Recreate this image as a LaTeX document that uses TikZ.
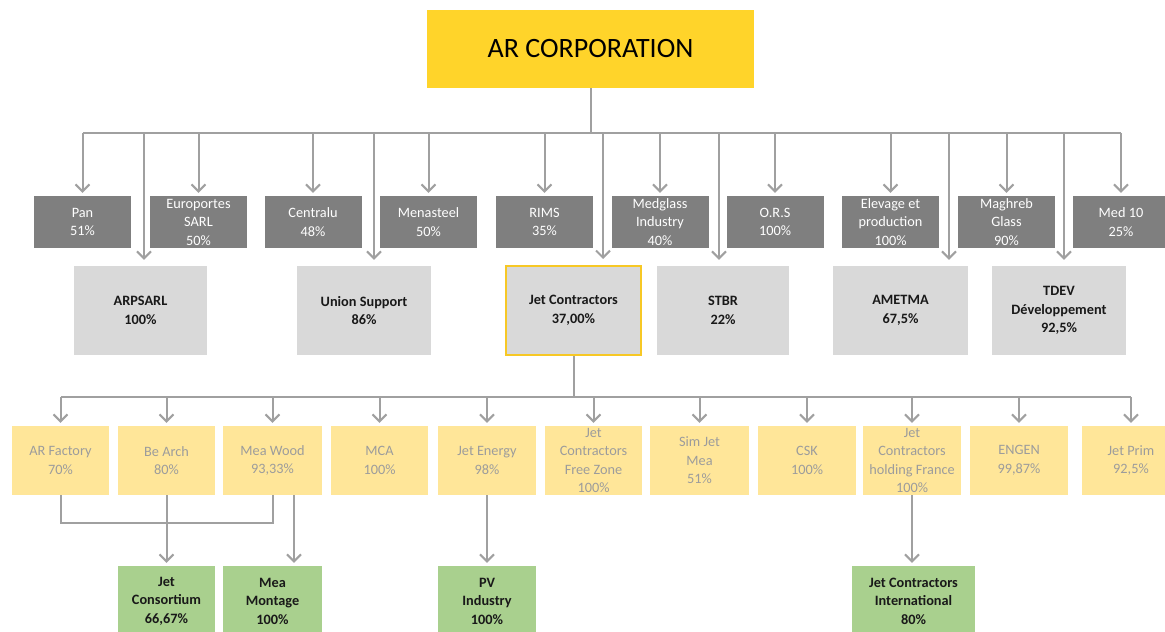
\documentclass[tikz,border=0pt]{standalone}
\usepackage{fontspec}
\setmainfont{Carlito}
\usetikzlibrary{arrows.meta,calc}
\definecolor{corpfill}{HTML}{FFD42A}
\definecolor{dgfill}{HTML}{7F7F7F}
\definecolor{lgfill}{HTML}{D9D9D9}
\definecolor{yfill}{HTML}{FFE699}
\definecolor{gfill}{HTML}{A9D08E}
\definecolor{lncol}{HTML}{A0A0A0}
\definecolor{ytext}{HTML}{9C9C9C}
\definecolor{jcborder}{HTML}{F7C825}
\begin{document}
\begin{tikzpicture}[x=1pt,y=-1pt,
  box/.style={inner sep=0pt, align=center, font=\fontsize{14.3}{18.5}\selectfont},
  corpbox/.style={box, fill=corpfill, minimum width=327pt, minimum height=78pt, font=\fontsize{28}{32}\selectfont},
  dgbox/.style={box, fill=dgfill, text=white, minimum width=97pt, minimum height=52pt},
  lgbox/.style={box, fill=lgfill, text=black!90, minimum width=134pt, minimum height=89pt, font=\fontsize{14.3}{18.5}\selectfont\bfseries},
  ybox/.style={box, fill=yfill, text=ytext, minimum width=97pt, minimum height=69pt},
  gbox/.style={box, fill=gfill, text=black!90, minimum width=98pt, minimum height=70pt, font=\fontsize{14.3}{18.5}\selectfont\bfseries},
  ln/.style={draw=lncol, line width=2pt},
  arr/.style={ln, -{Straight Barb[length=7pt,width=14pt]}, shorten >=3pt},
  arrl/.style={arr, shorten >=6pt}
]
\useasboundingbox (0,0) rectangle (1165,632);

% top
\node[corpbox] (corp) at (590.5,49) {AR CORPORATION};

% dark grey row
\node[dgbox] (pan) at (82.5,222) {Pan\\51\%};
\node[dgbox] (euro) at (198.5,222) {Europortes\\SARL\\50\%};
\node[dgbox] (centralu) at (313,222) {Centralu\\48\%};
\node[dgbox] (menasteel) at (428.5,222) {Menasteel\\50\%};
\node[dgbox] (rims) at (544.5,222) {RIMS\\35\%};
\node[dgbox] (medglass) at (660,222) {Medglass\\Industry\\40\%};
\node[dgbox] (ors) at (775,222) {O.R.S\\100\%};
\node[dgbox] (elevage) at (890.5,222) {Elevage et\\production\\100\%};
\node[dgbox] (maghreb) at (1006.5,222) {Maghreb\\Glass\\90\%};
\node[dgbox] (med10) at (1121,222) {Med 10\\25\%};

% light grey row
\node[lgbox, minimum width=133pt] (arp) at (140.5,310.5) {ARPSARL\\100\%};
\node[lgbox] (union) at (364,310.5) {Union Support\\86\%};
\node[lgbox, minimum width=135pt, draw=jcborder, line width=2pt] (jc) at (573.5,310.5) {Jet Contractors\\37,00\%};
\node[lgbox, minimum width=132pt] (stbr) at (723,310.5) {STBR\\22\%};
\node[lgbox, minimum width=135pt] (ametma) at (900.5,310.5) {AMETMA\\67,5\%};
\node[lgbox] (tdev) at (1059,310.5) {TDEV\\Développement\\92,5\%};

% yellow row
\node[ybox] (arf) at (60.5,460.5) {AR Factory\\70\%};
\node[ybox] (bea) at (166.5,460.5) {Be Arch\\80\%};
\node[ybox, minimum width=99pt] (meaw) at (272.5,460.5) {Mea Wood\\93,33\%};
\node[ybox] (mca) at (379.5,460.5) {MCA\\100\%};
\node[ybox, minimum width=98pt] (jen) at (487,460.5) {Jet Energy\\98\%};
\node[ybox] (jcfz) at (593.5,460.5) {Jet\\Contractors\\Free Zone\\100\%};
\node[ybox, minimum width=99pt] (sim) at (699.5,460.5) {Sim Jet\\Mea\\51\%};
\node[ybox, minimum width=98pt] (csk) at (807,460.5) {CSK\\100\%};
\node[ybox, minimum width=98pt] (jchf) at (912,460.5) {Jet\\Contractors\\holding France\\100\%};
\node[ybox, minimum width=98pt] (engen) at (1019,460.5) {ENGEN\\99,87\%};
\node[ybox, minimum width=98pt] (jprim) at (1131,460.5) {Jet Prim\\92,5\%};

% green row
\node[gbox, minimum width=97pt] (jcons) at (166.5,601) {Jet\\Consortium\\66,67\%};
\node[gbox, minimum width=99pt] (meamont) at (272.5,601) {Mea\\Montage\\100\%};
\node[gbox] (pv) at (487,601) {PV\\Industry\\100\%};
\node[gbox, minimum width=123pt] (jci) at (913.5,601) {Jet Contractors\\International\\80\%};

% top bar
\coordinate (b1l) at (83,133);
\coordinate (b1r) at (1121,133);
\draw[ln] (corp.south) -- (corp.south |- b1l);
\draw[ln] (b1l) -- (b1r);
\foreach \n in {pan,euro,centralu,menasteel,rims,medglass,ors,elevage,maghreb,med10}
  \draw[arr] (\n.north |- b1l) -- (\n.north);
\coordinate (aarp) at ([xshift=3.5pt]arp.north);
\coordinate (aunion) at ([xshift=10pt]union.north);
\coordinate (ajc) at ([xshift=29.5pt]jc.north);
\coordinate (astbr) at ([xshift=-4pt]stbr.north);
\coordinate (aametma) at ([xshift=48.5pt]ametma.north);
\coordinate (atdev) at ([xshift=5pt]tdev.north);
\foreach \n in {aarp,aunion,ajc,astbr,aametma,atdev}
  \draw[arrl] (\n |- b1l) -- (\n);

% second bar
\coordinate (b2l) at (61,397);
\coordinate (b2r) at (1131,397);
\draw[ln] (jc.south) -- (jc.south |- b2l);
\draw[ln] (b2l) -- (b2r);
\foreach \n in {arf,bea,meaw,mca,jen,jcfz,sim,csk,jchf,engen,jprim}
  \draw[arr] (\n.north |- b2l) -- (\n.north);

% bottom connectors
\coordinate (j3) at (0,523);
\draw[ln] (arf.south) -- (arf.south |- j3) -| (meaw.south);
\draw[arr] (bea.south) -- (jcons.north);
\coordinate (mw2) at ([xshift=21.5pt]meaw.south);
\draw[arr] (mw2) -- (mw2 |- meamont.north);
\draw[arr] (jen.south) -- (pv.north);
\draw[arr] (jchf.south) -- (jchf.south |- jci.north);
\end{tikzpicture}
\end{document}
